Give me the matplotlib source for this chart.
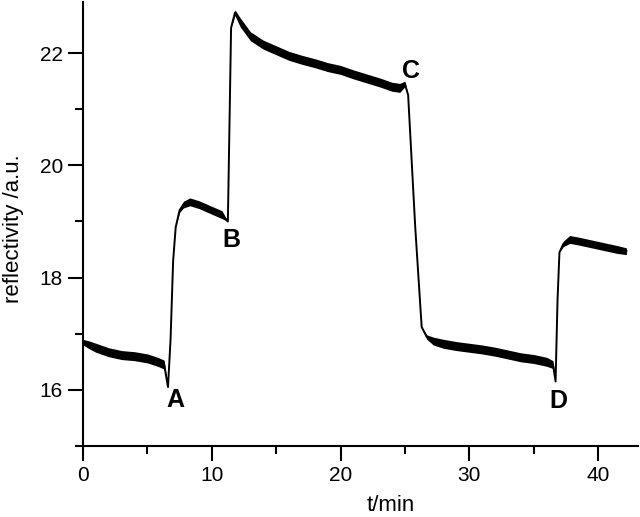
import numpy as np
import matplotlib.pyplot as plt

plt.rcParams['font.family'] = ['Liberation Sans', 'DejaVu Sans']

# trace: time (min), reflectivity (a.u.)
t = [0, 0.5, 1, 2, 3, 4, 5, 5.8, 6.3, 6.6, 6.8, 7.0, 7.2, 7.5, 7.8, 8.3,
     9, 10, 10.8, 11.25, 11.5, 11.8, 12.2, 13, 14, 15, 16, 17, 18, 19, 20,
     21, 22, 23, 24, 24.6, 25.0, 25.25, 25.8, 26.3, 26.7, 27.2, 28, 29, 30,
     31, 32, 33, 34, 35, 36, 36.5, 36.7, 36.85, 37.0, 37.3, 37.8, 38.5,
     39.5, 40.5, 41.5, 42.2]
refl = [16.85, 16.8, 16.75, 16.67, 16.62, 16.6, 16.56, 16.5, 16.45, 16.05,
        16.9, 18.3, 18.9, 19.2, 19.3, 19.35, 19.3, 19.2, 19.12, 19.0, 22.45,
        22.72, 22.55, 22.3, 22.15, 22.05, 21.95, 21.88, 21.82, 21.75, 21.7,
        21.62, 21.55, 21.48, 21.4, 21.38, 21.45, 21.25, 18.9, 17.12, 16.94,
        16.87, 16.82, 16.78, 16.75, 16.72, 16.68, 16.63, 16.58, 16.55, 16.5,
        16.45, 16.15, 17.6, 18.45, 18.6, 18.68, 18.65, 18.6, 18.55, 18.5,
        18.47]
# half-width of the noise band around the trace
noise = [0.05, 0.07, 0.08, 0.08, 0.08, 0.08, 0.08, 0.08, 0.08, 0.0,
         0.0, 0.0, 0.0, 0.04, 0.06, 0.07, 0.07, 0.07, 0.07, 0.0, 0.0,
         0.05, 0.08, 0.08, 0.08, 0.08, 0.08, 0.08, 0.08, 0.08, 0.08,
         0.08, 0.08, 0.08, 0.08, 0.08, 0.05, 0.0, 0.0, 0.0, 0.04,
         0.07, 0.08, 0.08, 0.08, 0.08, 0.08, 0.08, 0.08, 0.08, 0.08,
         0.07, 0.0, 0.0, 0.0, 0.05, 0.07, 0.07, 0.07, 0.07, 0.07,
         0.06]

points = ['A', 'B', 'C', 'D']
point_t = [7.15, 11.55, 25.5, 36.9]
point_y = [15.70, 18.55, 21.55, 15.68]

t = np.array(t)
refl = np.array(refl)
noise = np.array(noise)

fig = plt.figure(figsize=(6.4, 5.17), dpi=100)
ax = fig.add_axes([83 / 640, 71 / 517, 555 / 640, 444 / 517])

ax.fill_between(t, refl - noise, refl + noise, color='black', lw=0)
ax.plot(t, refl, color='black', lw=1.4)

for lab, x, y in zip(points, point_t, point_y):
    ax.text(x, y, lab, fontsize=18, fontweight='bold', ha='center', va='baseline')

ax.set_xlim(0, 43.1)
ax.set_ylim(15.0, 22.91)
ax.set_xticks([0, 10, 20, 30, 40])
ax.set_xticks([5, 15, 25, 35], minor=True)
ax.set_yticks([16, 18, 20, 22])
ax.set_yticks([15, 17, 19, 21], minor=True)

for s in ['top', 'right']:
    ax.spines[s].set_visible(False)
for s in ['left', 'bottom']:
    ax.spines[s].set_linewidth(1.5)

ax.tick_params(which='major', direction='out', length=11, width=1.5,
               labelsize=15, pad=3.5)
ax.tick_params(which='minor', direction='out', length=6, width=1.5)

ax.set_xlabel('t/min', fontsize=16, va='center', ha='center')
ax.xaxis.set_label_coords(0.555, -0.133)
ax.set_ylabel('reflectivity /a.u.', fontsize=16, va='center', ha='center')
ax.yaxis.set_label_coords(-0.126, 0.49)

fig.savefig('out.png', dpi=100)
